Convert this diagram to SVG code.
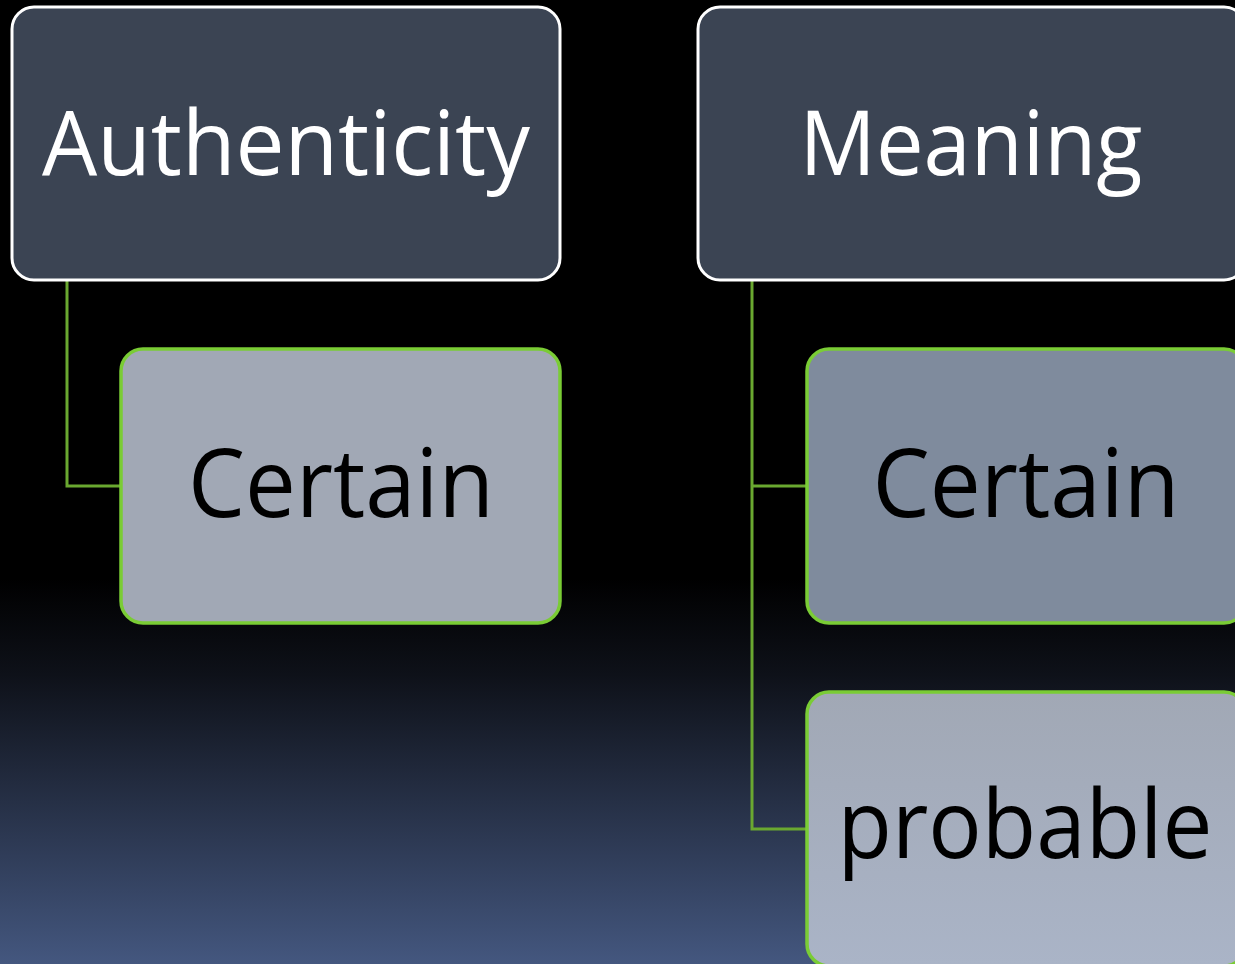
<svg xmlns="http://www.w3.org/2000/svg" width="1235" height="964" viewBox="0 0 1235 964">
<defs>
<linearGradient id="bg" x1="0" y1="0" x2="0" y2="1">
<stop offset="0" stop-color="#000000"/>
<stop offset="0.6" stop-color="#000000"/>
<stop offset="0.7" stop-color="#0e1119"/>
<stop offset="1" stop-color="#44577f"/>
</linearGradient>
<linearGradient id="pg" x1="0" y1="0" x2="0" y2="1">
<stop offset="0" stop-color="#a1a8b5"/>
<stop offset="1" stop-color="#aab4c7"/>
</linearGradient>
<style>
.head{fill:#3b4453;stroke:#ffffff;stroke-width:3}
.child{stroke:#7acc35;stroke-width:3.5}
.ht{font-family:"Open Sans","Noto Sans","Liberation Sans",sans-serif;font-size:90px;fill:#ffffff;text-anchor:middle}
.ct{font-family:"Open Sans","Noto Sans","Liberation Sans",sans-serif;font-size:95px;fill:#000000;text-anchor:middle}
.conn{fill:none;stroke:#6aa830;stroke-width:3}
</style>
</defs>
<rect x="0" y="0" width="1235" height="964" fill="url(#bg)"/>
<g id="connectors">
<path class="conn" d="M67 281 V486 H121"/>
<path class="conn" d="M752 281 V829 H807"/>
<path class="conn" d="M752 486 H807"/>
</g>
<g id="authenticity">
<rect class="head" x="12" y="7" width="548" height="273" rx="22"/>
<text class="ht" x="286" y="175" textLength="488" lengthAdjust="spacingAndGlyphs">Authenticity</text>
</g>
<g id="meaning">
<rect class="head" x="698" y="7" width="548" height="273" rx="22"/>
<text class="ht" x="971" y="175" textLength="343" lengthAdjust="spacingAndGlyphs">Meaning</text>
</g>
<g id="certain-left">
<rect class="child" x="121" y="349" width="439" height="274" rx="22" fill="#a1a8b5"/>
<text class="ct" x="341" y="517" textLength="306" lengthAdjust="spacingAndGlyphs">Certain</text>
</g>
<g id="certain-right">
<rect class="child" x="807" y="349" width="439" height="274" rx="22" fill="#7f8b9d"/>
<text class="ct" x="1026" y="517" textLength="307" lengthAdjust="spacingAndGlyphs">Certain</text>
</g>
<g id="probable">
<rect class="child" x="807" y="692" width="439" height="274" rx="22" fill="url(#pg)"/>
<text class="ct" x="1025" y="858" textLength="375" lengthAdjust="spacingAndGlyphs">probable</text>
</g>
</svg>
